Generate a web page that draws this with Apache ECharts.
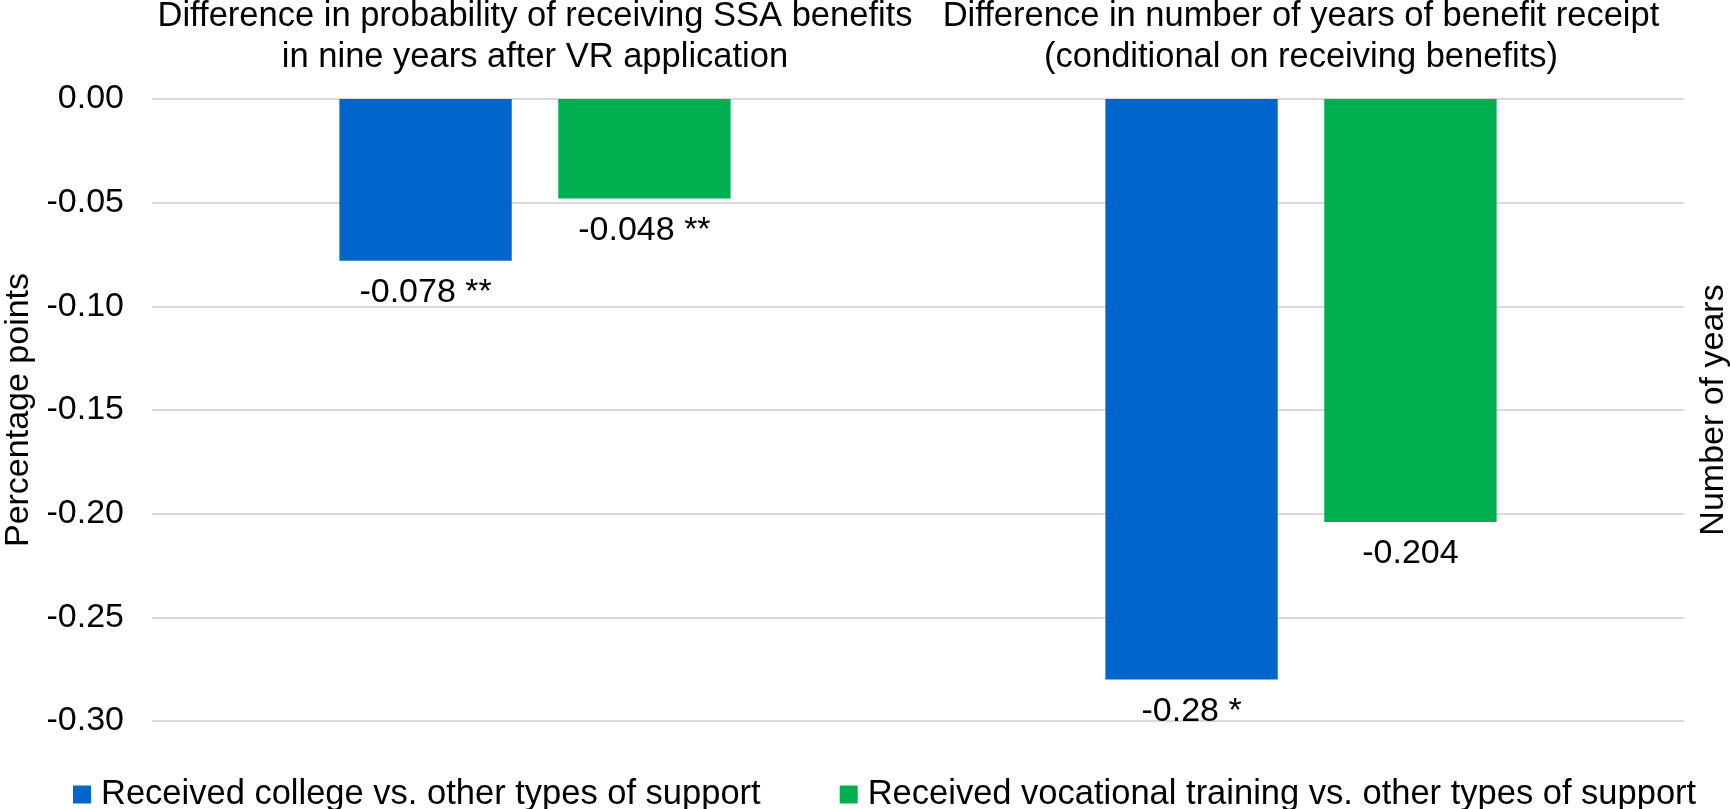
<!DOCTYPE html>
<html>
<head>
<meta charset="utf-8">
<script src="https://cdn.jsdelivr.net/npm/echarts@6/dist/echarts.min.js"></script>
<style>
html,body{margin:0;padding:0;background:#fff;}
#chart{width:1731px;height:809px;}
</style>
</head>
<body>
<div id="chart"></div>
<script>
const categories = [
  'Difference in probability of receiving SSA benefits\nin nine years after VR application',
  'Difference in number of years of benefit receipt\n(conditional on receiving benefits)'
];
const seriesNames = [
  'Received college vs. other types of support',
  'Received vocational training vs. other types of support'
];
const collegeValues = [-0.078, -0.28];
const collegeStars = ['**', '*'];
const vocationalValues = [-0.048, -0.204];
const vocationalStars = ['**', ''];
const yMin = -0.3, yMax = 0, yStep = 0.05;

const FONT = "'Liberation Sans', Arial, sans-serif";
const chart = echarts.init(document.getElementById('chart'), null, {renderer: 'canvas'});

function labelFmt(stars) {
  return p => p.value + (stars[p.dataIndex] ? ' ' + stars[p.dataIndex] : '');
}
const labelStyle = {
  show: true, position: 'bottom', distance: 15,
  fontSize: 34, lineHeight: 34, color: '#000', fontFamily: FONT
};

chart.setOption({
  animation: false,
  backgroundColor: '#fff',
  textStyle: {fontFamily: FONT},
  grid: {left: 152, right: 47, top: 99, bottom: 88, containLabel: false, outerBoundsMode: 'none'},
  legend: {
    left: 73, top: 777, padding: 0,
    itemWidth: 18, itemHeight: 18, itemGap: 79,
    icon: 'rect',
    textStyle: {fontSize: 34.5, color: '#000', fontFamily: FONT, padding: [0, 0, 0, 5]},
    data: seriesNames
  },
  xAxis: {
    type: 'category', position: 'top', data: categories,
    axisLine: {show: false}, axisTick: {show: false},
    axisLabel: {interval: 0, fontSize: 34.5, lineHeight: 41, color: '#000', margin: 21, fontFamily: FONT}
  },
  yAxis: [
    {
      type: 'value', min: yMin, max: yMax, interval: yStep,
      name: 'Percentage points', nameLocation: 'middle', nameGap: 116, nameRotate: 90,
      nameTextStyle: {fontSize: 34, color: '#000', fontFamily: FONT},
      axisLine: {show: false}, axisTick: {show: false},
      axisLabel: {fontSize: 34, color: '#000', margin: 28, fontFamily: FONT, formatter: v => v.toFixed(2)},
      splitLine: {lineStyle: {color: '#d9d9d9', width: 2}}
    },
    {
      type: 'value', min: yMin, max: yMax, interval: yStep, position: 'right',
      name: 'Number of years', nameLocation: 'middle', nameGap: 13, nameRotate: 90,
      nameTextStyle: {fontSize: 34, color: '#000', fontFamily: FONT},
      axisLine: {show: false}, axisTick: {show: false},
      axisLabel: {show: false}, splitLine: {show: false}
    }
  ],
  series: [
    {
      name: seriesNames[0], type: 'bar', data: collegeValues,
      barWidth: '22.5%', barGap: '27%',
      itemStyle: {color: '#0066CC'},
      label: Object.assign({formatter: labelFmt(collegeStars)}, labelStyle)
    },
    {
      name: seriesNames[1], type: 'bar', data: vocationalValues,
      barWidth: '22.5%', barGap: '27%',
      itemStyle: {color: '#00B050'},
      label: Object.assign({formatter: labelFmt(vocationalStars)}, labelStyle)
    }
  ]
});
</script>
</body>
</html>
